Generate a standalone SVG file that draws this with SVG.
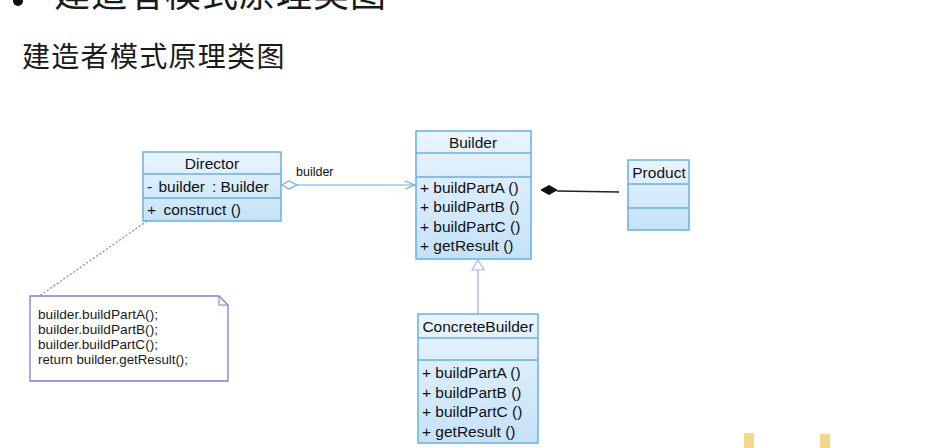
<svg xmlns="http://www.w3.org/2000/svg" width="939" height="448" viewBox="0 0 939 448">
<defs>
<linearGradient id="g" x1="0" y1="0" x2="0" y2="1">
<stop offset="0" stop-color="#eaf5fd"/>
<stop offset="1" stop-color="#c4e2f8"/>
</linearGradient>
<marker id="open" markerWidth="12" markerHeight="10" refX="11" refY="5" orient="auto" markerUnits="userSpaceOnUse">
<path d="M1,1 L11,5 L1,9" fill="none" stroke="#6aaee6" stroke-width="1.2"/>
</marker>
<marker id="odiam" markerWidth="18" markerHeight="10" refX="1" refY="5" orient="auto" markerUnits="userSpaceOnUse">
<path d="M1,5 L8,1 L16,5 L8,9 Z" fill="#fff" stroke="#6aaee6" stroke-width="1.2"/>
</marker>
</defs>
<style>
.box{fill:url(#g);stroke:#6aaee6;stroke-width:1.5}
.sep{stroke:#6aaee6;stroke-width:1.5}
.t{font-family:"Liberation Sans",Arial,sans-serif;font-size:15.5px;fill:#111}
.c{text-anchor:middle}
.n{font-family:"Liberation Sans",Arial,sans-serif;font-size:13px;fill:#1a1a1a}
.cn{font-family:"Liberation Sans","Noto Sans CJK SC",sans-serif;fill:#1a1a1a}
</style>
<rect width="939" height="448" fill="#fff"/>
<circle cx="18" cy="1" r="5" fill="#111"/>
<text class="cn" x="54" y="7" font-size="36" letter-spacing="1">建造者模式原理类图</text>
<text class="cn" x="22" y="67" font-size="28" letter-spacing="1.3">建造者模式原理类图</text>

<g id="connectors">
<line x1="147" y1="221" x2="38" y2="297" stroke="#7b7ce0" stroke-width="1.2" stroke-dasharray="2,2"/>
<line x1="282" y1="185" x2="415" y2="185" stroke="#6aaee6" stroke-width="1.2" marker-start="url(#odiam)" marker-end="url(#open)"/>
<text class="t" x="296" y="176" style="font-size:12.5px">builder</text>
<path d="M541,190 L549,185.5 L557,190 L549,194.5 Z" fill="#111" stroke="#111"/>
<line x1="557" y1="191" x2="619" y2="192" stroke="#222" stroke-width="1.5"/>
<line x1="478" y1="314" x2="478" y2="270" stroke="#b9b4f0" stroke-width="1.5"/>
<path d="M478,260 L484,270 L472,270 Z" fill="#fff" stroke="#b9b4f0" stroke-width="1.2"/>
</g>

<g id="director">
<rect class="box" x="143" y="152" width="138" height="69"/>
<line class="sep" x1="143" y1="174" x2="281" y2="174"/>
<line class="sep" x1="143" y1="198" x2="281" y2="198"/>
<text class="t c" x="212" y="169">Director</text>
<text class="t" y="192"><tspan x="147">-</tspan><tspan x="158.5">builder</tspan><tspan x="212">:</tspan><tspan x="220.5">Builder</tspan></text>
<text class="t" y="215"><tspan x="147">+</tspan><tspan x="163.5">construct ()</tspan></text>
</g>

<g id="builder">
<rect class="box" x="416" y="131" width="115" height="128"/>
<line class="sep" x1="416" y1="153" x2="531" y2="153"/>
<line class="sep" x1="416" y1="177" x2="531" y2="177"/>
<text class="t c" x="473" y="148">Builder</text>
<text class="t" x="420" y="193">+ buildPartA ()</text>
<text class="t" x="420" y="212">+ buildPartB ()</text>
<text class="t" x="420" y="232">+ buildPartC ()</text>
<text class="t" x="420" y="251">+ getResult ()</text>
</g>

<g id="product">
<rect class="box" x="628" y="160" width="61" height="70"/>
<line class="sep" x1="628" y1="184" x2="689" y2="184"/>
<line class="sep" x1="628" y1="208" x2="689" y2="208"/>
<text class="t c" x="659" y="178">Product</text>
</g>

<g id="concretebuilder">
<rect class="box" x="418" y="314" width="120" height="129"/>
<line class="sep" x1="418" y1="338" x2="538" y2="338"/>
<line class="sep" x1="418" y1="360" x2="538" y2="360"/>
<text class="t c" x="478" y="332">ConcreteBuilder</text>
<text class="t" x="422" y="378">+ buildPartA ()</text>
<text class="t" x="422" y="398">+ buildPartB ()</text>
<text class="t" x="422" y="417">+ buildPartC ()</text>
<text class="t" x="422" y="437">+ getResult ()</text>
</g>

<g id="note">
<path d="M30,296 L219,296 L228,305 L228,381 L30,381 Z" fill="#fff" stroke="#7b7ce0" stroke-width="1.3"/>
<path d="M219,296 L219,305 L228,305" fill="none" stroke="#7b7ce0" stroke-width="1"/>
<text class="n" x="38" y="319" textLength="120" lengthAdjust="spacingAndGlyphs">builder.buildPartA();</text>
<text class="n" x="38" y="334" textLength="120" lengthAdjust="spacingAndGlyphs">builder.buildPartB();</text>
<text class="n" x="38" y="349" textLength="120" lengthAdjust="spacingAndGlyphs">builder.buildPartC();</text>
<text class="n" x="38" y="364" textLength="150" lengthAdjust="spacingAndGlyphs">return builder.getResult();</text>
</g>

<g id="icons">
<rect x="744" y="433" width="10" height="15" fill="#f2d98a"/>
<rect x="820" y="434" width="10" height="14" fill="#f2d98a"/>
</g>
</svg>
